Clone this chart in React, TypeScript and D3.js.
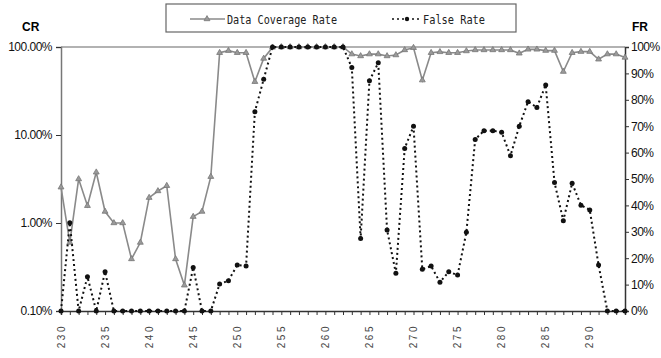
import * as d3 from "d3";
import { useEffect, useRef } from "react";

// categories 230..294
const categories = [
  230, 231, 232, 233, 234, 235, 236, 237, 238, 239,
  240, 241, 242, 243, 244, 245, 246, 247, 248, 249,
  250, 251, 252, 253, 254, 255, 256, 257, 258, 259,
  260, 261, 262, 263, 264, 265, 266, 267, 268, 269,
  270, 271, 272, 273, 274, 275, 276, 277, 278, 279,
  280, 281, 282, 283, 284, 285, 286, 287, 288, 289,
  290, 291, 292, 293, 294,
];

// Data Coverage Rate (%), log axis
const coverageRate = [
  2.55, 0.6, 3.16, 1.57, 3.77, 1.35, 1.0, 1.0, 0.39, 0.6,
  1.94, 2.31, 2.65, 0.39, 0.196, 1.18, 1.35, 3.36, 86, 90.8,
  86, 86, 40.3, 74, 99, 100, 100, 100, 100, 100,
  100, 100, 100, 83, 79, 83, 83, 79, 81, 92.5,
  98, 42, 86, 88, 86, 86, 90, 92.5, 92.5, 92.5,
  92.5, 92.5, 84.8, 94, 94, 91, 91, 52.5, 86, 88.5,
  88.5, 72.5, 83, 83, 76,
];

// False Rate (%), linear axis
const falseRate = [
  0, 33.4, 0, 13, 0, 14.9, 0, 0, 0, 0,
  0, 0, 0, 0, 0, 16.5, 0, 0, 10.2, 11.5,
  17.4, 17, 75.5, 87.8, 100, 100, 100, 100, 100, 100,
  100, 100, 100, 92.2, 27.5, 87.2, 94, 30.7, 14.3, 61.6,
  70, 15.8, 17, 10.9, 14.9, 13.6, 29.8, 65, 68.3, 68.3,
  67.7, 58.8, 70, 79.3, 77.1, 85.6, 48.7, 34.2, 48.4, 40.1,
  38.3, 17.4, 0, 0, 0,
];

const leftTicks = [0.1, 1, 10, 100];
const rightTicks = [0, 10, 20, 30, 40, 50, 60, 70, 80, 90, 100];

const App = () => {
  const svgRef = useRef<SVGSVGElement>(null);

  useEffect(() => {
    const w = 661;
    const h = 358;
    const left = 61;
    const right = 625;
    const top = 47;
    const bottom = 311;

    const svg = d3.select(svgRef.current);
    svg.selectAll("*").remove();
    svg.attr("width", w).attr("height", h).style("background", "#fff");

    const x = d3.scalePoint<number>().domain(categories).range([left, right]);
    const yL = d3.scaleLog().domain([0.1, 100]).range([bottom, top]);
    const yR = d3.scaleLinear().domain([0, 100]).range([bottom, top]);

    // top line at 100%
    svg.append("line")
      .attr("x1", left).attr("x2", right)
      .attr("y1", top).attr("y2", top)
      .attr("stroke", "#999").attr("stroke-width", 1.5);

    // axes
    const font = "'Liberation Sans', Arial, sans-serif";
    const gL = svg.append("g")
      .attr("transform", `translate(${left},0)`)
      .call(d3.axisLeft(yL).tickValues(leftTicks).tickSize(5)
        .tickFormat((d) => (+d).toFixed(2) + "%"));
    const gR = svg.append("g")
      .attr("transform", `translate(${right},0)`)
      .call(d3.axisRight(yR).tickValues(rightTicks).tickSize(4)
        .tickFormat((d) => d + "%"));
    const gB = svg.append("g")
      .attr("transform", `translate(0,${bottom})`)
      .call(d3.axisBottom(x).tickSize(4).tickFormat(() => ""));

    [gL, gR, gB].forEach((g) => {
      g.select(".domain").attr("stroke", "#333").attr("stroke-width", 1.5);
      g.selectAll(".tick line").attr("stroke", "#333");
      g.selectAll("text")
        .attr("font-family", font)
        .attr("font-size", 12)
        .attr("letter-spacing", -0.5)
        .attr("fill", "#111");
    });
    gL.select(".domain").attr("stroke", "#777");
    gL.selectAll("text").attr("x", -9);
    gR.selectAll("text").attr("x", 6);

    // rotated category labels, every 5th
    svg.append("g")
      .selectAll("text")
      .data(categories.filter((c) => c % 5 === 0))
      .join("text")
      .attr("transform", (d) => `translate(${x(d)},324) rotate(-90)`)
      .attr("text-anchor", "end")
      .attr("dy", "0.35em")
      .attr("font-family", font)
      .attr("font-size", 10)
      .attr("letter-spacing", 2.5)
      .attr("fill", "#444")
      .text((d) => d);

    // Coverage rate line
    const crLine = d3.line<number>()
      .x((d, i) => x(categories[i])!)
      .y((d) => yL(d));
    svg.append("path")
      .datum(coverageRate)
      .attr("d", crLine)
      .attr("fill", "none")
      .attr("stroke", "#8a8a8a")
      .attr("stroke-width", 1.6);
    const tri = d3.symbol().type(d3.symbolTriangle).size(15);
    svg.append("g")
      .selectAll("path")
      .data(coverageRate)
      .join("path")
      .attr("d", tri)
      .attr("transform", (d, i) => `translate(${x(categories[i])},${yL(d)})`)
      .attr("fill", "#9a9a9a")
      .attr("stroke", "#777")
      .attr("stroke-width", 0.8);

    // False rate line
    const frLine = d3.line<number>()
      .x((d, i) => x(categories[i])!)
      .y((d) => yR(d));
    svg.append("path")
      .datum(falseRate)
      .attr("d", frLine)
      .attr("fill", "none")
      .attr("stroke", "#111")
      .attr("stroke-width", 2)
      .attr("stroke-dasharray", "2,3");
    svg.append("g")
      .selectAll("circle")
      .data(falseRate)
      .join("circle")
      .attr("cx", (d, i) => x(categories[i])!)
      .attr("cy", (d) => yR(d))
      .attr("r", 2.5)
      .attr("fill", "#111");

    // axis titles
    svg.append("text").attr("x", 22).attr("y", 31)
      .attr("font-family", font).attr("font-size", 12).attr("font-weight", "bold")
      .text("CR");
    svg.append("text").attr("x", 632).attr("y", 31)
      .attr("font-family", font).attr("font-size", 12).attr("font-weight", "bold")
      .text("FR");

    // legend
    const lg = svg.append("g");
    lg.append("rect")
      .attr("x", 166).attr("y", 4).attr("width", 350).attr("height", 28)
      .attr("fill", "#fff").attr("stroke", "#666").attr("stroke-width", 1.2);
    lg.append("line")
      .attr("x1", 190).attr("x2", 225).attr("y1", 19).attr("y2", 19)
      .attr("stroke", "#8a8a8a").attr("stroke-width", 1.6);
    lg.append("path")
      .attr("d", tri)
      .attr("transform", "translate(207,19)")
      .attr("fill", "#9a9a9a").attr("stroke", "#777").attr("stroke-width", 0.8);
    lg.append("text")
      .attr("x", 227).attr("y", 24)
      .attr("font-family", "'DejaVu Sans Mono', monospace")
      .attr("font-size", 13)
      .attr("textLength", 110).attr("lengthAdjust", "spacingAndGlyphs")
      .attr("fill", "#222")
      .text("Data Coverage Rate");
    lg.append("line")
      .attr("x1", 392).attr("x2", 421).attr("y1", 19).attr("y2", 19)
      .attr("stroke", "#111").attr("stroke-width", 1.6)
      .attr("stroke-dasharray", "2,3");
    lg.append("circle").attr("cx", 407).attr("cy", 19).attr("r", 2.2).attr("fill", "#111");
    lg.append("text")
      .attr("x", 423).attr("y", 24)
      .attr("font-family", "'DejaVu Sans Mono', monospace")
      .attr("font-size", 13)
      .attr("textLength", 62).attr("lengthAdjust", "spacingAndGlyphs")
      .attr("fill", "#222")
      .text("False Rate");
  }, []);

  return (
    <svg
      ref={svgRef}
      style={{ position: "absolute", left: 0, top: 0, display: "block" }}
    ></svg>
  );
};

export default App;
